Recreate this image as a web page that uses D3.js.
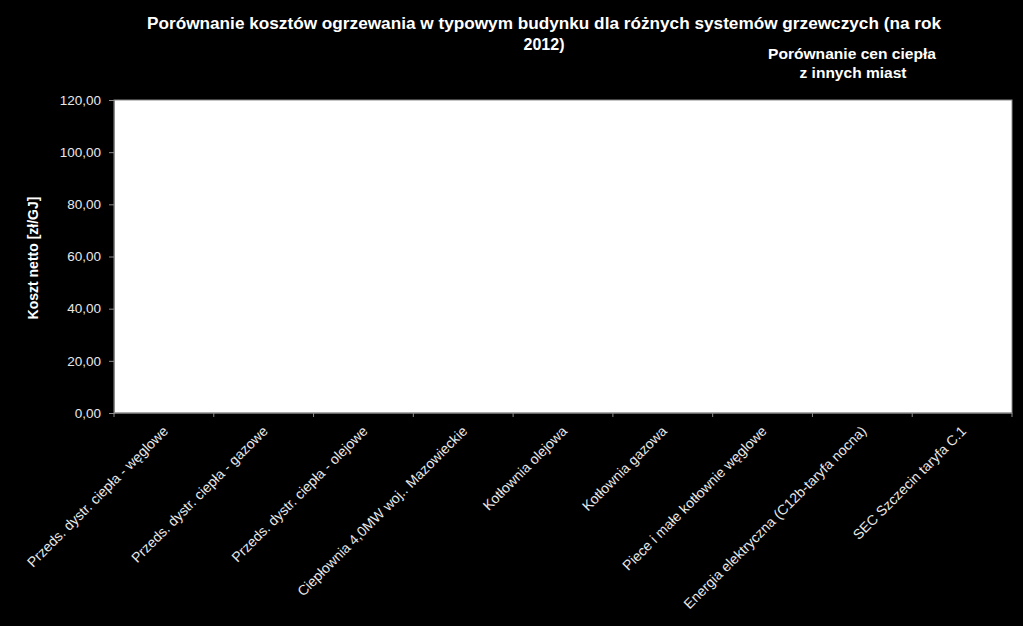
<!DOCTYPE html>
<html>
<head>
<meta charset="utf-8">
<script src="https://cdn.jsdelivr.net/npm/d3@7"></script>
<style>
  body { margin: 0; background: #000; }
  text { font-family: "Liberation Sans", Arial, sans-serif; }
</style>
</head>
<body>
<div class="graph"></div>
<script>
const categories = [
  "Przeds. dystr. ciepła - węglowe",
  "Przeds. dystr. ciepła - gazowe",
  "Przeds. dystr. ciepła - olejowe",
  "Ciepłownia 4,0MW woj.. Mazowieckie",
  "Kotłownia olejowa",
  "Kotłownia gazowa",
  "Piece i małe kotłownie węglowe",
  "Energia elektryczna (C12b-taryfa nocna)",
  "SEC Szczecin taryfa C.1"
];
// no bars are visible in the picture, so every value reads as 0
const costs = [0, 0, 0, 0, 0, 0, 0, 0, 0];
const yTicks = [0, 20, 40, 60, 80, 100, 120];

const W = 1023, H = 626;
const margin = { top: 100, right: 11, bottom: 213, left: 114 },
  width = W - margin.left - margin.right,
  height = H - margin.top - margin.bottom;

const svg = d3.select(".graph").append("svg")
  .attr("width", W)
  .attr("height", H)
  .style("display", "block")
  .style("background", "#000");

// titles
svg.append("text")
  .attr("x", 544).attr("y", 29)
  .attr("text-anchor", "middle")
  .attr("fill", "#fff")
  .attr("font-size", 16)
  .attr("font-weight", "bold")
  .attr("textLength", 794)
  .attr("lengthAdjust", "spacingAndGlyphs")
  .text("Porównanie kosztów ogrzewania w typowym budynku dla różnych systemów grzewczych (na rok");
svg.append("text")
  .attr("x", 544).attr("y", 50)
  .attr("text-anchor", "middle")
  .attr("fill", "#fff")
  .attr("font-size", 16)
  .attr("font-weight", "bold")
  .text("2012)");

svg.append("text")
  .attr("x", 852).attr("y", 59)
  .attr("text-anchor", "middle")
  .attr("fill", "#fff")
  .attr("font-size", 14.5)
  .attr("font-weight", "bold")
  .attr("textLength", 168)
  .attr("lengthAdjust", "spacingAndGlyphs")
  .text("Porównanie cen ciepła");
svg.append("text")
  .attr("x", 853).attr("y", 78)
  .attr("text-anchor", "middle")
  .attr("fill", "#fff")
  .attr("font-size", 14.5)
  .attr("font-weight", "bold")
  .attr("textLength", 107)
  .attr("lengthAdjust", "spacingAndGlyphs")
  .text("z innych miast");

const g = svg.append("g")
  .attr("transform", "translate(" + margin.left + "," + margin.top + ")");

const x = d3.scaleBand()
  .domain(categories)
  .range([0, width])
  .paddingInner(0.3)
  .paddingOuter(0.15);

const y = d3.scaleLinear()
  .domain([0, 120])
  .range([height, 0]);

// plot area
g.append("rect")
  .attr("width", width)
  .attr("height", height)
  .attr("fill", "#fff")
  .attr("stroke", "#8c8c8c")
  .attr("stroke-width", 1);

// bars
g.selectAll(".bar")
  .data(costs)
  .enter().append("rect")
  .attr("class", "bar")
  .attr("x", (d, i) => x(categories[i]))
  .attr("width", x.bandwidth())
  .attr("y", d => y(d))
  .attr("height", d => height - y(d))
  .attr("fill", "#4f81bd");

// y axis
const fmt = d => d3.format(".2f")(d).replace(".", ",");
const yAxis = g.append("g")
  .call(d3.axisLeft(y).tickValues(yTicks).tickFormat(fmt).tickSize(5).tickPadding(8));
yAxis.select(".domain").attr("stroke", "#8c8c8c");
yAxis.selectAll(".tick line").attr("stroke", "#8c8c8c");
yAxis.selectAll("text")
  .attr("fill", "#e8e8e8")
  .attr("font-size", 13.5)
  .style("font-family", "Liberation Sans, Arial, sans-serif");

// x axis: ticks between categories
const step = width / categories.length;
const xAxis = g.append("g")
  .attr("transform", "translate(0," + height + ")");
xAxis.append("line")
  .attr("x1", 0).attr("x2", width)
  .attr("stroke", "#8c8c8c");
xAxis.selectAll(".sep")
  .data(d3.range(categories.length + 1))
  .enter().append("line")
  .attr("class", "sep")
  .attr("x1", d => d * step).attr("x2", d => d * step)
  .attr("y1", 0).attr("y2", 4)
  .attr("stroke", "#8c8c8c");

xAxis.selectAll(".lab")
  .data(categories)
  .enter().append("text")
  .attr("class", "lab")
  .attr("transform", d => "translate(" + (x(d) + x.bandwidth() / 2 + 5) + ",19) rotate(-45)")
  .attr("text-anchor", "end")
  .attr("fill", "#e8e8e8")
  .attr("font-size", 14)
  .text(d => d);

// y axis title
svg.append("text")
  .attr("transform", "translate(38,258) rotate(-90)")
  .attr("text-anchor", "middle")
  .attr("fill", "#fff")
  .attr("font-size", 14)
  .attr("font-weight", "bold")
  .text("Koszt netto [zł/GJ]");
</script>
</body>
</html>
